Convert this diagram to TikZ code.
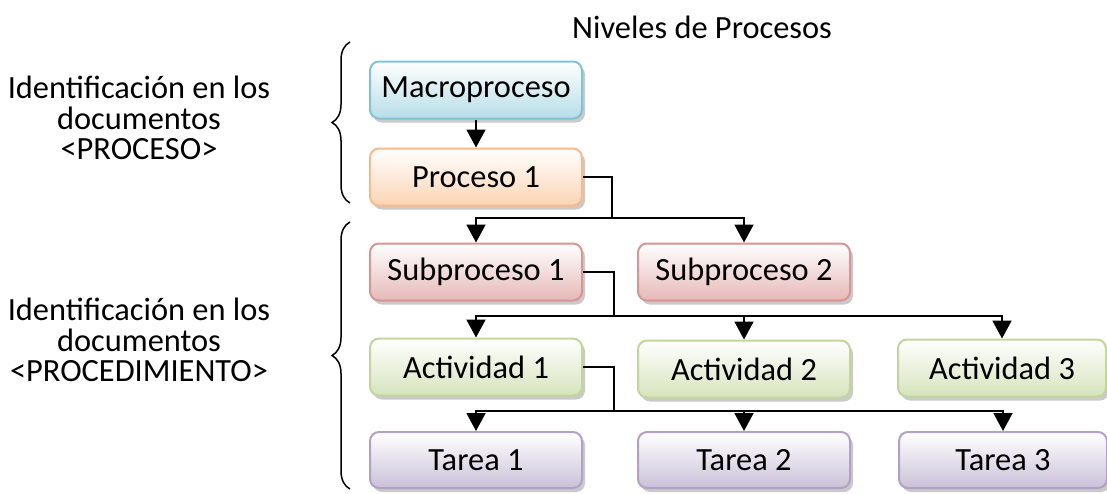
\documentclass[tikz,border=0pt]{standalone}
\usepackage{fontspec}
\setmainfont{Carlito}
\usetikzlibrary{arrows.meta,shadows,decorations.pathreplacing}
\definecolor{macB}{HTML}{7EC4D6}\definecolor{macF}{HTML}{B7DDE8}
\definecolor{proB}{HTML}{F9B98A}\definecolor{proF}{HTML}{FBD4B4}
\definecolor{subB}{HTML}{D99594}\definecolor{subF}{HTML}{E5B8B7}
\definecolor{actB}{HTML}{C2D69B}\definecolor{actF}{HTML}{D6E3BC}
\definecolor{tarB}{HTML}{B2A1C7}\definecolor{tarF}{HTML}{CCC0D9}
\tikzset{
  lvlbox/.style n args={2}{draw=#1, line width=2pt, rounded corners=9pt,
    top color=white, bottom color=#2, minimum width=212pt, minimum height=57pt,
    inner sep=0pt, font=\fontsize{32.4}{38}\selectfont,
    drop shadow={shadow xshift=3pt, shadow yshift=-4pt, fill=black!35, opacity=0.6}},
  conn/.style={line width=1.9pt, draw=black},
  arr/.style={conn, -{Triangle[width=19pt,length=18pt]}},
  lbl/.style={align=center, font=\fontsize{32.4}{30.5}\selectfont},
  brc/.style={decorate, decoration={brace, amplitude=18pt}, line width=1.5pt}
}
\begin{document}
\begin{tikzpicture}[x=1pt,y=-1pt]
\useasboundingbox (0,0) rectangle (1107,493);
\node (title) at (702,27) {\fontsize{32.4}{38}\selectfont Niveles de Procesos};
\node[lbl] (lab1) at (139,118) {Identificación en los\\documentos\\<PROCESO>};
\node[lbl] (lab2) at (139,340) {Identificación en los\\documentos\\<PROCEDIMIENTO>};
\coordinate (b1a) at (350,203); \coordinate (b1b) at (350,42);
\coordinate (b2a) at (350,489); \coordinate (b2b) at (350,222);
\draw[brc] (b1a) -- (b1b);
\draw[brc] (b2a) -- (b2b);

\node[lvlbox={macB}{macF}] (mac) at (476,90) {Macroproceso};
\node[lvlbox={proB}{proF}] (pro) at (476,177) {Proceso 1};
\node[lvlbox={subB}{subF}] (s1) at (476,272) {Subproceso 1};
\node[lvlbox={subB}{subF}] (s2) at (744,272) {Subproceso 2};
\node[lvlbox={actB}{actF}] (a1) at (476,367) {Actividad 1};
\node[lvlbox={actB}{actF}] (a2) at (744,369) {Actividad 2};
\node[lvlbox={actB}{actF}, minimum width=208pt] (a3) at (1002,368) {Actividad 3};
\node[lvlbox={tarB}{tarF}, minimum height=56pt] (t1) at (476,460) {Tarea 1};
\node[lvlbox={tarB}{tarF}, minimum height=56pt] (t2) at (744,460) {Tarea 2};
\node[lvlbox={tarB}{tarF}, minimum height=56pt, minimum width=208pt] (t3) at (1003,460) {Tarea 3};

\draw[arr] (mac) -- (pro);

\coordinate (j1) at (612,218);
\draw[conn] (pro.east) -| (j1);
\draw[arr] (j1) -| (s1.north);
\draw[arr] (j1) -| (s2.north);

\coordinate (j2) at (614,316);
\draw[conn] (s1.east) -| (j2);
\draw[arr] (j2) -| (a1.north);
\draw[arr] (j2) -| (a2.north);
\draw[arr] (j2) -| (a3.north);

\coordinate (j3) at (614,411);
\draw[conn] (a1.east) -| (j3);
\draw[arr] (j3) -| (t1.north);
\draw[arr] (j3) -| (t2.north);
\draw[arr] (j3) -| (t3.north);
\end{tikzpicture}
\end{document}
